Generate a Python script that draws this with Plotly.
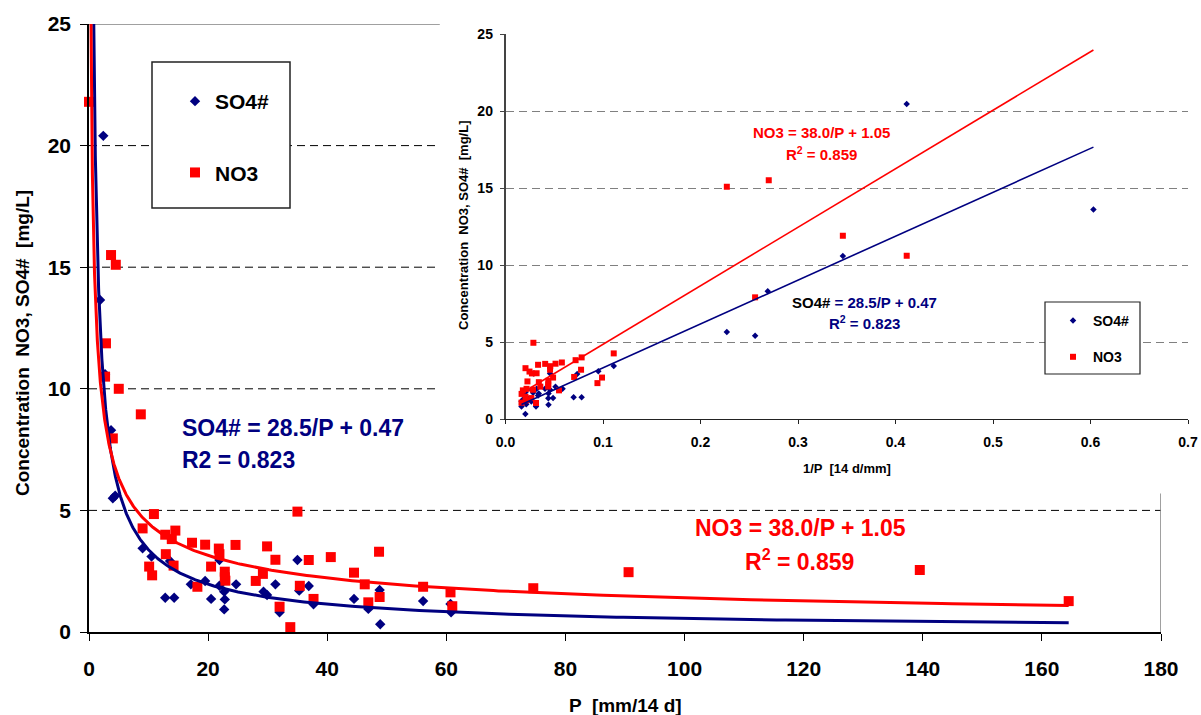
import numpy as np
import plotly.graph_objects as go

# ---------------- main panel data: P [mm/14 d] vs concentration [mg/L]
P_so4 = [1.85, 2.4, 2.7, 3.7, 4.0, 4.4, 9.0, 10.5, 13.6, 12.8, 14.3, 17.1, 19.5, 21.9, 21.9, 20.5,
         22.7, 22.8, 22.7, 24.7, 29.3, 29.9, 31.3, 32.0, 35.0, 35.3, 36.9, 37.7, 44.5, 46.9, 48.8,
         48.9, 56.1, 60.7, 60.8]
so4 = [13.65, 20.4, 10.6, 8.3, 5.5, 5.6, 3.44, 3.1, 2.92, 1.41, 1.41, 1.96, 2.1, 2.96, 1.9, 1.36,
       1.66, 1.34, 0.93, 1.96, 1.66, 1.52, 1.96, 0.81, 2.96, 1.7, 1.89, 1.14, 1.36, 0.95, 1.73,
       0.32, 1.27, 1.15, 0.81]

P_no3 = [0.0, 2.7, 2.85, 3.7, 4.5, 4.0, 5.0, 8.7, 10.9, 35.0, 9.0, 12.8, 14.5, 13.9, 17.3, 19.5,
         21.8, 21.9, 24.6, 29.9, 12.9, 10.1, 10.6, 14.2, 20.5, 22.8, 22.8, 22.9, 31.3, 36.9, 40.6,
         48.7, 29.2, 28.0, 18.2, 35.4, 44.5, 46.3, 46.9, 48.8, 56.1, 37.7, 32.0, 33.8, 60.7, 61.0,
         74.6, 90.6, 139.5, 164.5]
no3 = [21.8, 10.5, 11.87, 15.5, 15.1, 7.96, 10.0, 8.95, 4.85, 4.95, 4.26, 4.0, 4.17, 3.82, 3.67,
       3.59, 3.43, 3.2, 3.58, 3.52, 3.2, 2.69, 2.33, 2.73, 2.69, 2.48, 2.25, 2.11, 2.97, 2.96, 3.08,
       3.3, 2.39, 2.1, 1.86, 1.9, 2.44, 1.96, 1.22, 1.44, 1.86, 1.36, 1.04, 0.2, 1.63, 1.06, 1.8,
       2.46, 2.55, 1.27]

# ---------------- inset data: 1/P [14 d/mm] vs concentration [mg/L]
inv_P_so4 = [0.603, 0.4115, 0.346, 0.269, 0.256, 0.227, 0.111, 0.0952, 0.0735, 0.0781, 0.0699,
             0.0585, 0.0513, 0.0457, 0.0457, 0.0488, 0.0441, 0.0439, 0.0441, 0.0405, 0.0341,
             0.0334, 0.0319, 0.0313, 0.0286, 0.0283, 0.0271, 0.0265, 0.0225, 0.0213, 0.0205,
             0.0204, 0.0178, 0.0165, 0.0164]
so4_inset = [13.6, 20.45, 10.58, 8.3, 5.4, 5.65, 3.44, 3.1, 2.92, 1.41, 1.41, 1.96, 2.1, 2.96, 1.9,
             1.36, 1.66, 1.34, 0.93, 1.96, 1.66, 1.52, 1.96, 0.81, 2.96, 1.7, 1.89, 1.14, 1.36,
             0.95, 1.73, 0.32, 1.27, 1.15, 0.81]
inv_P_no3 = [0.4115, 0.346, 0.270, 0.227, 0.256, 0.0286, 0.111, 0.0781, 0.0719, 0.0578, 0.0513,
             0.0459, 0.0457, 0.0407, 0.0334, 0.0775, 0.099, 0.0943, 0.0704, 0.0488, 0.0439, 0.0439,
             0.0437, 0.0319, 0.0271, 0.0246, 0.0205, 0.0342, 0.0357, 0.0549, 0.0282, 0.0225,
             0.0216, 0.0213, 0.0205, 0.0178, 0.0265, 0.0313, 0.0165, 0.0164]
no3_inset = [10.6, 11.9, 15.5, 15.08, 7.9, 4.95, 4.26, 4.0, 3.82, 3.67, 3.59, 3.43, 3.2, 3.58, 3.52,
             3.2, 2.69, 2.33, 2.73, 2.69, 2.48, 2.25, 2.11, 2.97, 2.96, 3.08, 3.3, 2.39, 2.1, 1.86,
             1.9, 2.44, 1.96, 1.22, 1.44, 1.86, 1.36, 1.04, 1.63, 1.06]

# ---------------- regression results (as printed on the chart)
so4_slope, so4_intercept, so4_r2 = 28.5, 0.47, 0.823
no3_slope, no3_intercept, no3_r2 = 38.0, 1.05, 0.859
# shape of the trend curves drawn on the main panel (power form, y = a * P^b)
so4_curve_a, so4_curve_b = 20.55, -0.784
no3_curve_a, no3_curve_b = 14.2, -0.503

# ---------------- ticks
main_x_ticks = [0, 20, 40, 60, 80, 100, 120, 140, 160, 180]
conc_ticks = [0, 5, 10, 15, 20, 25]
inset_x_ticks = [0.0, 0.1, 0.2, 0.3, 0.4, 0.5, 0.6, 0.7]
inset_x_labels = ["0.0", "0.1", "0.2", "0.3", "0.4", "0.5", "0.6", "0.7"]

NAVY = "#000080"
RED = "#FF0000"
FONT = "Liberation Sans, Arial, sans-serif"

# ---------------- pixel geometry helpers (figure 1201 x 715)
L, R, T, B = 89, 1188, 24, 632


def px(xp):
    return (xp - L) / (R - L)


def py(yp):
    return (B - yp) / (B - T)


fig = go.Figure()

# main panel markers
fig.add_trace(go.Scatter(x=P_so4, y=so4, mode="markers", name="SO4#", xaxis="x", yaxis="y",
                         marker=dict(symbol="diamond", size=8, color=NAVY),
                         legend="legend", legendgroup="m1", cliponaxis=False))
fig.add_trace(go.Scatter(x=P_no3, y=no3, mode="markers", name="NO3", xaxis="x", yaxis="y",
                         marker=dict(symbol="square", size=10, color=RED),
                         legend="legend", legendgroup="m2", cliponaxis=False))

# main panel trend curves
P_all = P_so4 + P_no3
Pc = np.geomspace(0.3, max(P_all), 500)
fig.add_trace(go.Scatter(x=Pc, y=so4_curve_a * Pc ** so4_curve_b, mode="lines", xaxis="x", yaxis="y",
                         line=dict(color=NAVY, width=3), showlegend=False, hoverinfo="skip"))
fig.add_trace(go.Scatter(x=Pc, y=no3_curve_a * Pc ** no3_curve_b, mode="lines", xaxis="x", yaxis="y",
                         line=dict(color=RED, width=3), showlegend=False, hoverinfo="skip"))

# inset markers
fig.add_trace(go.Scatter(x=inv_P_so4, y=so4_inset, mode="markers", name="SO4#", xaxis="x2", yaxis="y2",
                         marker=dict(symbol="diamond", size=5, color=NAVY),
                         legend="legend2", legendgroup="i1"))
fig.add_trace(go.Scatter(x=inv_P_no3, y=no3_inset, mode="markers", name="NO3", xaxis="x2", yaxis="y2",
                         marker=dict(symbol="square", size=6, color=RED),
                         legend="legend2", legendgroup="i2"))

# inset regression lines
inv_all = inv_P_so4 + inv_P_no3
xl = np.array([min(inv_all), max(inv_all)])
fig.add_trace(go.Scatter(x=xl, y=no3_slope * xl + no3_intercept, mode="lines", xaxis="x2", yaxis="y2",
                         line=dict(color=RED, width=1.6), showlegend=False, hoverinfo="skip"))
fig.add_trace(go.Scatter(x=xl, y=so4_slope * xl + so4_intercept, mode="lines", xaxis="x2", yaxis="y2",
                         line=dict(color=NAVY, width=1.6), showlegend=False, hoverinfo="skip"))

bold = dict(family=FONT, color="black", weight="bold")

fig.update_layout(
    width=1201, height=715,
    margin=dict(l=L, r=1201 - R, t=T, b=715 - B, autoexpand=False),
    paper_bgcolor="white", plot_bgcolor="white",
    font=dict(family=FONT, color="black"),
    xaxis=dict(domain=[0, px(1161)], range=[0, 180], tickvals=main_x_ticks, anchor="y",
               automargin=False,
               showgrid=False, zeroline=False, showline=True, linecolor="black", linewidth=1.5,
               ticks="outside", ticklen=7, tickcolor="black", tickwidth=1.2,
               tickfont=dict(size=21, **bold), ticklabelstandoff=10),
    yaxis=dict(domain=[0, 1], range=[0, 25], tickvals=conc_ticks, anchor="x",
               automargin=False,
               showgrid=False, zeroline=False, showline=True, linecolor="black", linewidth=1.5,
               ticks="outside", ticklen=7, tickcolor="black", tickwidth=1.2,
               tickfont=dict(size=21, **bold), ticklabelstandoff=5),
    xaxis2=dict(domain=[px(505.5), 1], range=[0, 0.7], tickvals=inset_x_ticks, ticktext=inset_x_labels,
                anchor="y2", automargin=False,
                showgrid=False, zeroline=False, showline=True, linecolor="#222",
                linewidth=1.2, ticks="outside", ticklen=4, tickcolor="#222",
                tickfont=dict(size=14, **bold), ticklabelstandoff=6),
    yaxis2=dict(domain=[py(419), py(34)], range=[0, 25], tickvals=conc_ticks, anchor="x2",
                automargin=False,
                showgrid=True, gridcolor="#808080", gridwidth=1.3, griddash="8px,5px",
                zeroline=False, showline=True, linecolor="#444", linewidth=1.5,
                ticks="outside", ticklen=4, tickcolor="#444",
                tickfont=dict(size=14, **bold), ticklabelstandoff=4),
    legend=dict(x=px(175), xanchor="left", y=py(81), yanchor="top", bgcolor="rgba(0,0,0,0)",
                borderwidth=0, font=dict(size=21, **bold), tracegroupgap=41, traceorder="grouped"),
    legend2=dict(x=px(1053), xanchor="left", y=py(305), yanchor="top", bgcolor="rgba(0,0,0,0)",
                 borderwidth=0, font=dict(size=14, **bold), tracegroupgap=15, traceorder="grouped"),
)

grid_end = 58.9  # main grid lines stop where the inset begins
shapes = []
for v in conc_ticks[1:-1]:
    shapes.append(dict(type="line", xref="x", yref="y", x0=0, x1=180 if v == 5 else grid_end,
                       y0=v, y1=v, line=dict(color="black", width=1, dash="8px,5px"), layer="below"))
shapes.append(dict(type="line", xref="x", yref="y", x0=0, x1=grid_end, y0=25, y1=25,
                   line=dict(color="#808080", width=1.5), layer="below"))
shapes.append(dict(type="line", xref="x", yref="y", x0=180, x1=180, y0=0, y1=5.7,
                   line=dict(color="#808080", width=1.5), layer="below"))
# legend frames
shapes.append(dict(type="rect", xref="paper", yref="paper", x0=px(152), x1=px(290), y0=py(208), y1=py(62),
                   line=dict(color="#222", width=1.5), fillcolor="white", layer="above"))
shapes.append(dict(type="rect", xref="paper", yref="paper", x0=px(1045), x1=px(1140), y0=py(374), y1=py(302),
                   line=dict(color="#222", width=1.2), fillcolor="white", layer="above"))
fig.update_layout(shapes=shapes)

ann = []


def add_text(text, xp, yp, size, color, xanchor="center", angle=0):
    ann.append(dict(text=text, x=px(xp), y=py(yp), xref="paper", yref="paper", showarrow=False,
                    xanchor=xanchor, yanchor="middle", textangle=angle,
                    font=dict(family=FONT, size=size, color=color, weight="bold")))


# main panel equations
add_text(f"SO4# = {so4_slope:.1f}/P + {so4_intercept:.2f}", 180, 428, 23, NAVY, xanchor="left")
add_text(f"R2 = {so4_r2:.3f}", 180, 460, 23, NAVY, xanchor="left")
add_text(f"NO3 = {no3_slope:.1f}/P + {no3_intercept:.2f}", 800, 528, 23, RED)
add_text(f"R<sup>2</sup> = {no3_r2:.3f}", 799, 560, 23, RED)
# inset equations
add_text(f"NO3 = {no3_slope:.1f}/P + {no3_intercept:.2f}", 821, 132, 15, RED)
add_text(f"R<sup>2</sup> = {no3_r2:.3f}", 821, 153, 15, RED)
add_text(f"<span style='color:black'>SO4#</span> = {so4_slope:.1f}/P + {so4_intercept:.2f}", 864, 302, 15, NAVY)
add_text(f"R<sup>2</sup> = {so4_r2:.3f}", 864, 322, 15, NAVY)
# axis titles
add_text("Concentration \u00a0NO3, SO4# \u00a0[mg/L]", 22, 343, 19, "black", angle=-90)
add_text("P \u00a0[mm/14 d]", 625, 705, 19, "black")
add_text("Concentration \u00a0NO3, SO4# \u00a0[mg/L]", 463, 226, 13, "black", angle=-90)
add_text("1/P \u00a0[14 d/mm]", 847, 468, 13, "black")
fig.update_layout(annotations=ann)

fig.write_html("out.html", config={"displayModeBar": False},
               post_script="document.body.style.margin='0';")
